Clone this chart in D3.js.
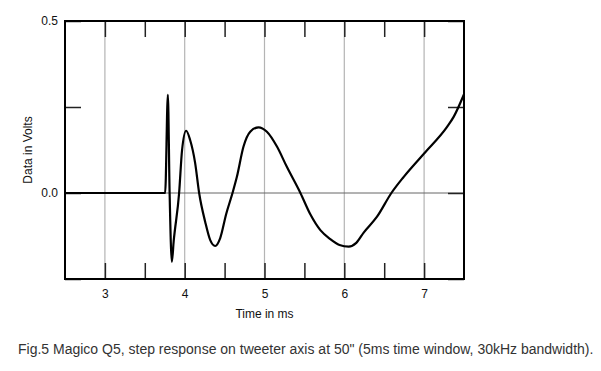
<!DOCTYPE html>
<html>
<head>
<meta charset="utf-8">
<script src="https://cdn.jsdelivr.net/npm/d3@7"></script>
<style>
  body { margin: 0; background: #fff; }
  text { font-family: Arial, "Liberation Sans", sans-serif; }
</style>
</head>
<body>
<div id="chart"></div>
<script>
// step response (time in ms, data in volts)
const timeMs = [2.5, 3.755, 3.789, 3.811, 3.839, 3.862, 3.93, 3.967, 4.018, 4.068, 4.131,
  4.181, 4.257, 4.32, 4.382, 4.445, 4.52, 4.599, 4.654, 4.737, 4.821, 4.925, 5.03, 5.156,
  5.28, 5.45, 5.574, 5.7, 5.825, 5.94, 6.055, 6.15, 6.243, 6.41, 6.59, 6.745, 7.0,
  7.29, 7.372, 7.5];
const volts = [0, 0, 0.285, 0, -0.2, -0.14, 0, 0.125, 0.181, 0.154, 0.087,
  0, -0.084, -0.137, -0.154, -0.131, -0.061, 0, 0.047, 0.135, 0.178, 0.191, 0.178, 0.135,
  0.076, 0, -0.062, -0.108, -0.134, -0.151, -0.156, -0.145, -0.115, -0.069, 0, 0.047, 0.115,
  0.193, 0.222, 0.287];

const xMajor = [3, 4, 5, 6, 7];
const xMinor = [3.5, 4.5, 5.5, 6.5];
const yTicks = [-0.25, 0, 0.25, 0.5];
const yLabels = [0, 0.5];

const svgWidth = 601;
const svgHeight = 371;
const margin = { top: 21, right: 137, bottom: 92, left: 65 };
const chartWidth = svgWidth - margin.left - margin.right;
const chartHeight = svgHeight - margin.top - margin.bottom;

const svg = d3.select("#chart")
  .append("svg")
  .attr("width", svgWidth)
  .attr("height", svgHeight);

const chartGroup = svg.append("g")
  .attr("transform", `translate(${margin.left}, ${margin.top})`);

const xScale = d3.scaleLinear().domain([2.5, 7.5]).range([0, chartWidth]);
const yScale = d3.scaleLinear().domain([-0.25, 0.5]).range([chartHeight, 0]);

// grid lines
chartGroup.selectAll(".vgrid")
  .data(xMajor)
  .enter()
  .append("line")
  .attr("x1", d => xScale(d))
  .attr("x2", d => xScale(d))
  .attr("y1", 0)
  .attr("y2", chartHeight)
  .attr("stroke", "#b4b4b4")
  .attr("stroke-width", 1.2);

chartGroup.append("line")
  .attr("x1", 0)
  .attr("x2", chartWidth)
  .attr("y1", yScale(0))
  .attr("y2", yScale(0))
  .attr("stroke", "#666")
  .attr("stroke-width", 1);

// axes with inward ticks
const tickLen = 16;
const xTickVals = xMajor.concat(xMinor);

const bottomAxis = d3.axisBottom(xScale)
  .tickValues(xTickVals)
  .tickSize(-tickLen)
  .tickPadding(10)
  .tickFormat(d => xMajor.includes(d) ? d3.format("d")(d) : "");
const topAxis = d3.axisTop(xScale)
  .tickValues(xTickVals)
  .tickSize(-tickLen)
  .tickFormat("");
const leftAxis = d3.axisLeft(yScale)
  .tickValues(yTicks)
  .tickSize(-tickLen)
  .tickPadding(7)
  .tickFormat(d => yLabels.includes(d) ? d3.format(".1f")(d) : "");
const rightAxis = d3.axisRight(yScale)
  .tickValues(yTicks)
  .tickSize(-tickLen)
  .tickFormat("");

chartGroup.append("g").attr("transform", `translate(0, ${chartHeight})`).call(bottomAxis);
chartGroup.append("g").call(topAxis);
chartGroup.append("g").call(leftAxis);
chartGroup.append("g").attr("transform", `translate(${chartWidth}, 0)`).call(rightAxis);

chartGroup.selectAll(".domain").remove();
chartGroup.selectAll(".tick line").attr("stroke", "#222").attr("stroke-width", 1.5);
chartGroup.selectAll(".tick text")
  .attr("fill", "#111")
  .style("font-size", "12px");

// the response curve
const line = d3.line()
  .x((d, i) => xScale(timeMs[i]))
  .y(d => yScale(d))
  .curve(d3.curveMonotoneX);

chartGroup.append("path")
  .datum(volts)
  .attr("fill", "none")
  .attr("stroke", "#000")
  .attr("stroke-width", 2.2)
  .attr("stroke-linejoin", "round")
  .attr("d", line);

// frame
chartGroup.append("rect")
  .attr("x", 0)
  .attr("y", 0)
  .attr("width", chartWidth)
  .attr("height", chartHeight)
  .attr("fill", "none")
  .attr("stroke", "#000")
  .attr("stroke-width", 2);

// labels
chartGroup.append("text")
  .attr("transform", `translate(${28 - margin.left}, ${chartHeight / 2}) rotate(-90)`)
  .attr("text-anchor", "middle")
  .attr("dy", "0.35em")
  .attr("fill", "#111")
  .style("font-size", "12px")
  .text("Data in Volts");

chartGroup.append("text")
  .attr("x", chartWidth / 2)
  .attr("y", chartHeight + 39)
  .attr("text-anchor", "middle")
  .attr("fill", "#111")
  .style("font-size", "12px")
  .text("Time in ms");

svg.append("text")
  .attr("x", 18)
  .attr("y", 354)
  .attr("fill", "#333")
  .style("font-size", "14px")
  .text("Fig.5 Magico Q5, step response on tweeter axis at 50\" (5ms time window, 30kHz bandwidth).");
</script>
</body>
</html>
